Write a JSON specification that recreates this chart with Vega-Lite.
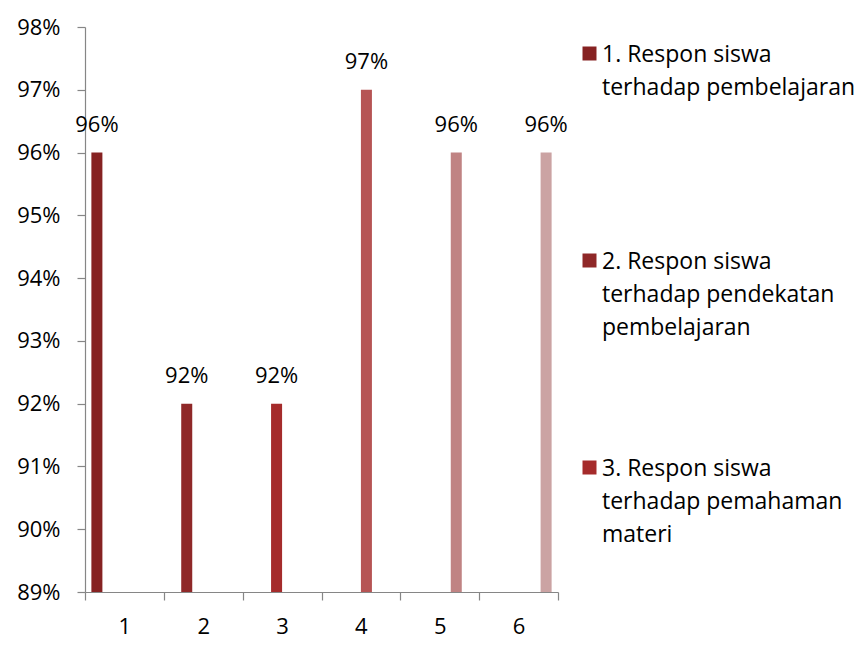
{
  "$schema": "https://vega.github.io/schema/vega-lite/v6.json",
  "width": 473,
  "height": 565,
  "autosize": {"type": "none"},
  "padding": {"left": 85, "top": 27, "right": 306, "bottom": 61},
  "background": "white",
  "config": {"view": {"stroke": null}, "font": "Open Sans"},
  "data": {
    "values": [
      {"kategori": "1", "seri": "1. Respon siswa terhadap pembelajaran", "nilai": 0.96},
      {"kategori": "2", "seri": "2. Respon siswa terhadap pendekatan pembelajaran", "nilai": 0.92},
      {"kategori": "3", "seri": "3. Respon siswa terhadap pemahaman materi", "nilai": 0.92},
      {"kategori": "4", "seri": "Seri 4", "nilai": 0.97},
      {"kategori": "5", "seri": "Seri 5", "nilai": 0.96},
      {"kategori": "6", "seri": "Seri 6", "nilai": 0.96}
    ]
  },
  "encoding": {
    "x": {
      "field": "kategori",
      "type": "nominal",
      "scale": {"paddingInner": 0, "paddingOuter": 0},
      "axis": {
        "title": null,
        "labelAngle": 0,
        "tickBand": "extent",
        "labelFontSize": 22,
        "labelColor": "#000000",
        "labelPadding": 16,
        "tickSize": 8,
        "domainColor": "#868686",
        "tickColor": "#868686",
        "domainWidth": 1.2,
        "tickWidth": 1.2
      }
    },
    "xOffset": {
      "field": "seri",
      "type": "nominal",
      "scale": {
        "domain": [
          "1. Respon siswa terhadap pembelajaran",
          "2. Respon siswa terhadap pendekatan pembelajaran",
          "3. Respon siswa terhadap pemahaman materi",
          "Seri 4", "Seri 5", "Seri 6"
        ],
        "paddingInner": 0,
        "paddingOuter": 0.58
      }
    },
    "y": {
      "field": "nilai",
      "type": "quantitative",
      "scale": {"domain": [0.89, 0.98], "zero": false, "nice": false},
      "axis": {
        "title": null,
        "values": [0.89, 0.90, 0.91, 0.92, 0.93, 0.94, 0.95, 0.96, 0.97, 0.98],
        "format": ".0%",
        "grid": false,
        "labelFontSize": 22,
        "labelColor": "#000000",
        "labelPadding": 17,
        "tickSize": 8,
        "domainColor": "#868686",
        "tickColor": "#868686",
        "domainWidth": 1.2,
        "tickWidth": 1.2
      }
    }
  },
  "layer": [
    {
      "mark": {"type": "bar"},
      "encoding": {
        "y2": {"datum": 0.89},
        "color": {
          "field": "seri",
          "type": "nominal",
          "scale": {
            "domain": [
              "1. Respon siswa terhadap pembelajaran",
              "2. Respon siswa terhadap pendekatan pembelajaran",
              "3. Respon siswa terhadap pemahaman materi",
              "Seri 4", "Seri 5", "Seri 6"
            ],
            "range": ["#862222", "#8f2828", "#a52b2b", "#b65454", "#c08383", "#cba3a3"]
          },
          "legend": {
            "title": null,
            "values": [
              "1. Respon siswa terhadap pembelajaran",
              "2. Respon siswa terhadap pendekatan pembelajaran",
              "3. Respon siswa terhadap pemahaman materi"
            ],
            "orient": "none",
            "legendX": 493,
            "legendY": 15,
            "direction": "vertical",
            "symbolType": "square",
            "symbolSize": 196,
            "symbolStrokeWidth": 0,
            "labelFontSize": 23,
            "labelColor": "#000000",
            "labelLimit": 400,
            "labelOffset": 1,
            "labelBaseline": "top",
            "rowPadding": 116,
            "labelExpr": "datum.label == '1. Respon siswa terhadap pembelajaran' ? ['1. Respon siswa', 'terhadap pembelajaran', ' '] : datum.label == '2. Respon siswa terhadap pendekatan pembelajaran' ? ['2. Respon siswa', 'terhadap pendekatan', 'pembelajaran'] : ['3. Respon siswa', 'terhadap pemahaman', 'materi']",
            "encode": {"labels": {"update": {"lineHeight": {"value": 33}, "dy": {"value": -10}}}}
          }
        }
      }
    },
    {
      "mark": {"type": "text", "baseline": "alphabetic", "dy": -21, "fontSize": 22, "color": "#000000"},
      "encoding": {"text": {"field": "nilai", "type": "quantitative", "format": ".0%"}}
    }
  ]
}
